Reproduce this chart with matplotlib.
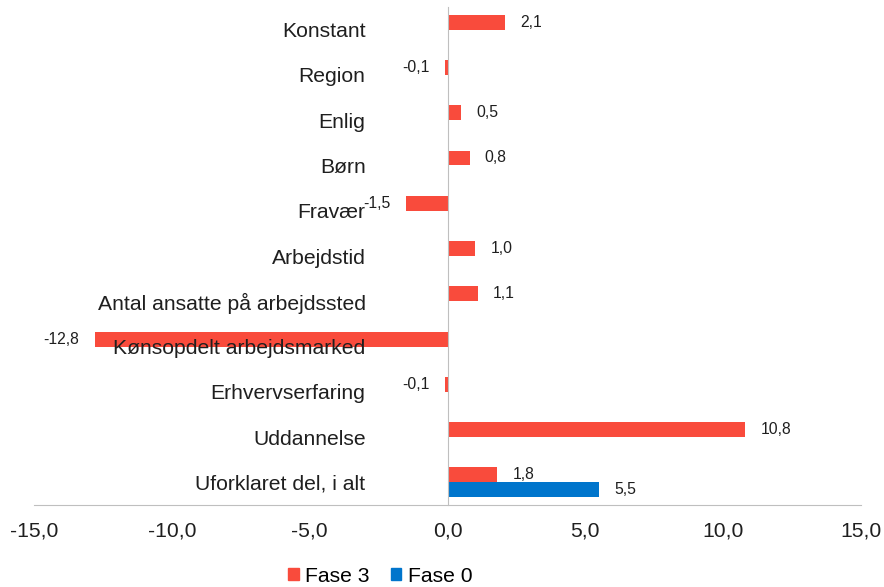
import matplotlib.pyplot as plt
import numpy as np
from matplotlib.patches import Patch

# data
categories = ["Konstant", "Region", "Enlig", "Børn", "Fravær", "Arbejdstid",
              "Antal ansatte på arbejdssted", "Kønsopdelt arbejdsmarked",
              "Erhvervserfaring", "Uddannelse", "Uforklaret del, i alt"]
fase3 = [2.1, -0.1, 0.5, 0.8, -1.5, 1.0, 1.1, -12.8, -0.1, 10.8, 1.8]
fase0 = [None, None, None, None, None, None, None, None, None, None, 5.5]
xticks = [-15, -10, -5, 0, 5, 10, 15]

RED = "#F94B3C"
BLUE = "#0075CC"
GRID = "#BFBFBF"
TXT = "#1F1F1F"
FS = 15.2

plt.rcParams['font.family'] = ['Liberation Sans', 'DejaVu Sans']

fig = plt.figure(figsize=(8.84, 5.87), dpi=100)
ax = fig.add_axes([34 / 884, (587 - 505) / 587, (861 - 34) / 884, (505 - 7) / 587])

y = np.arange(len(categories))
h = 0.33

def fmt(v):
    return f"{v:.1f}".replace(".", ",")

ax.barh(y - h / 2, fase3, height=h, color=RED, label="Fase 3")
for yi, v in zip(y, fase3):
    ax.annotate(fmt(v), (v, yi - h / 2), xytext=(11 if v >= 0 else -11, 0),
                textcoords="offset points", va="center",
                ha="left" if v >= 0 else "right", fontsize=11.3, color=TXT)

y0 = [yi for yi, v in zip(y, fase0) if v is not None]
v0 = [v for v in fase0 if v is not None]
ax.barh(np.array(y0) + h / 2, v0, height=h, color=BLUE, label="Fase 0")
for yi, v in zip(y0, v0):
    ax.annotate(fmt(v), (v, yi + h / 2), xytext=(11, 0),
                textcoords="offset points", va="center", ha="left",
                fontsize=11.3, color=TXT)

ax.set_ylim(len(categories) - 0.5, -0.5)
ax.set_xlim(-15, 15)
ax.set_xticks(xticks)
ax.set_xticklabels([fmt(t) for t in xticks])
ax.set_yticks(y)
ax.set_yticklabels(categories)

ax.spines['left'].set_position(('data', 0))
ax.spines['left'].set_color(GRID)
ax.spines['bottom'].set_color(GRID)
ax.spines['top'].set_visible(False)
ax.spines['right'].set_visible(False)
ax.tick_params(axis='y', length=0, pad=59, labelsize=FS, labelcolor=TXT)
ax.tick_params(axis='x', length=0, pad=12, labelsize=FS, labelcolor=TXT)

handles = [Patch(color=RED, label="Fase 3"), Patch(color=BLUE, label="Fase 0")]
fig.legend(handles=handles, loc="lower center", ncol=2, frameon=False,
           fontsize=FS, handlelength=0.5, handleheight=0.5,
           handletextpad=0.3, columnspacing=1.0, bbox_to_anchor=(0.43, -0.03))

fig.savefig("out.png", dpi=100)
